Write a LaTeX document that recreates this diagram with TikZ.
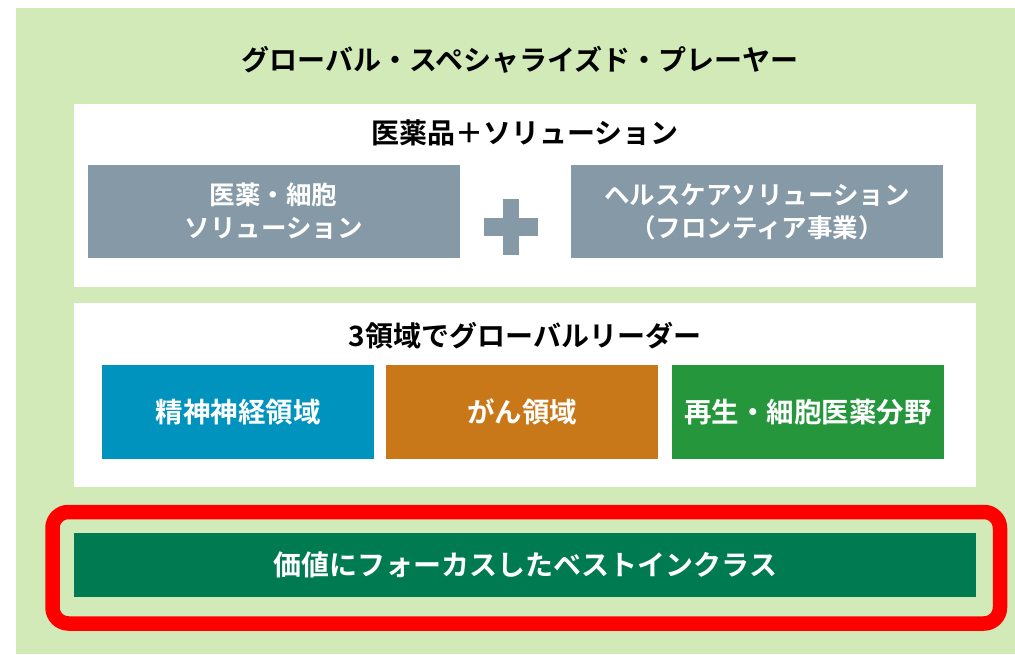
\documentclass[tikz,border=0pt]{standalone}
\usepackage{fontspec}
\setmainfont{Noto Sans CJK JP}[BoldFont={Noto Sans CJK JP Bold}]
\definecolor{bggreen}{RGB}{209,234,184}
\definecolor{slate}{RGB}{133,153,166}
\definecolor{cblue}{RGB}{0,147,190}
\definecolor{corange}{RGB}{200,120,25}
\definecolor{cgreen}{RGB}{37,150,60}
\definecolor{dgreen}{RGB}{0,122,80}
\definecolor{cred}{RGB}{255,0,0}
\tikzset{
  panel/.style={fill=white, draw=none, minimum width=902pt, inner sep=0pt, outer sep=0pt},
  graybox/.style={fill=slate, draw=none, minimum width=372pt, minimum height=93pt, inner sep=0pt, text=white, align=center, font=\fontsize{25.5}{33}\selectfont\bfseries},
  areabox/.style={draw=none, minimum width=272pt, minimum height=94pt, inner sep=0pt, text=white, font=\fontsize{27.5}{30}\selectfont\bfseries},
  headtext/.style={text=black, inner sep=0pt, font=\fontsize{28}{32}\selectfont\bfseries},
}
\begin{document}
\begin{tikzpicture}[x=1pt,y=-1pt]
\useasboundingbox (0,0) rectangle (1015,654);
\fill[bggreen] (16,8) rectangle (1015,654);
% title
\node[headtext] (title) at (520,60) {グローバル・スペシャライズド・プレーヤー};
% panel 1
\node[panel, minimum height=183pt] (p1) at (525,195.5) {};
\node[headtext] (p1t) at (525,133) {医薬品＋ソリューション};
\node[graybox] (g1) at (273.5,211.5) {医薬・細胞\\ソリューション};
\node[graybox] (g2) at (757,211.5) {ヘルスケアソリューション\\（フロンティア事業）};
\fill[slate] (484,218) rectangle (538,236);
\fill[slate] (503,199) rectangle (519,255);
% panel 2
\node[panel, minimum height=184pt] (p2) at (525,395) {};
\node[headtext] (p2t) at (525,336) {3領域でグローバルリーダー};
\node[areabox, fill=cblue] (a1) at (238,412) {精神神経領域};
\node[areabox, fill=corange] (a2) at (522,412) {がん領域};
\node[areabox, fill=cgreen] (a3) at (808,412) {再生・細胞医薬分野};
% bottom bar
\node[fill=dgreen, minimum width=902pt, minimum height=64pt, inner sep=0pt, text=white, font=\fontsize{28}{32}\selectfont\bfseries] (bar) at (525,565) {価値にフォーカスしたベストインクラス};
\draw[cred, line width=14.5pt, rounded corners=16pt] (52.5,512) rectangle (1000,623.5);
\end{tikzpicture}
\end{document}
